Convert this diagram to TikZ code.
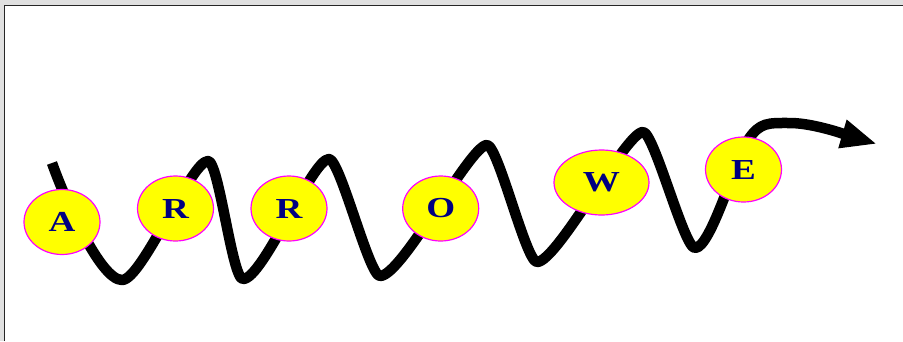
\documentclass[tikz,border=0pt]{standalone}
\usepackage{fontspec}
\setmainfont{Liberation Serif}
\usetikzlibrary{shapes.geometric,arrows.meta}
\definecolor{navyletter}{HTML}{000080}
\definecolor{framegray}{HTML}{E0E0E0}
\definecolor{beadfill}{HTML}{FFFF00}
\definecolor{beadline}{HTML}{FF00FF}
\tikzset{
  bead/.style={ellipse, draw=beadline, line width=1.2pt, fill=beadfill,
    minimum width=76pt, minimum height=65pt, inner sep=0pt,
    text=navyletter, font=\bfseries\fontsize{29}{29}\selectfont},
  wave/.style={line width=10.5pt, black, line cap=butt, line join=round},
}
\newcommand{\wide}[1]{\scalebox{1.28}[1]{#1}}
\begin{document}
\begin{tikzpicture}[x=1pt,y=-1pt]
\useasboundingbox (0,0) rectangle (903,341);
\fill[framegray] (0,0) rectangle (903,341);
\fill[white] (4.5,5.5) rectangle (903,341);
\draw[line width=1.2pt, black!85] (4.3,341) -- (4.3,5.2) -- (903,5.2);
\coordinate (start) at (52,163);
\coordinate (tip) at (877,144);
\draw[wave, -{Triangle[length=36pt 0, width=27pt 0]}] (start)
  .. controls +(12,34) and +(-22,0) .. (122,280)
  .. controls +(20,0) and +(-17,0) .. (208,161)
  .. controls +(11,0) and +(-11,0) .. (243,279)
  .. controls +(20,0) and +(-17,0) .. (329,159)
  .. controls +(11,0) and +(-11,0) .. (380,276)
  .. controls +(22,0) and +(-17,0) .. (487,145)
  .. controls +(11,0) and +(-11,0) .. (537,262)
  .. controls +(20,0) and +(-17,0) .. (643,132)
  .. controls +(11,0) and +(-11,0) .. (695,248)
  .. controls +(16,0) and +(-12,18) .. (748,140)
  .. controls +(12,-18) and +(-22,0) .. (790,123)
  .. controls +(25,0) and +(-24,-7) .. (tip);
\node[bead] (a) at (62,222) {\wide{A}};
\node[bead] (r1) at (175.5,208.5) {\wide{R}};
\node[bead] (r2) at (289,208.5) {\wide{R}};
\node[bead] (o) at (440.7,208.5) {\wide{O}};
\node[bead, minimum width=95pt] (w) at (601.5,182.5) {\wide{W}};
\node[bead] (e) at (743.5,169.5) {\wide{E}};
\end{tikzpicture}
\end{document}
